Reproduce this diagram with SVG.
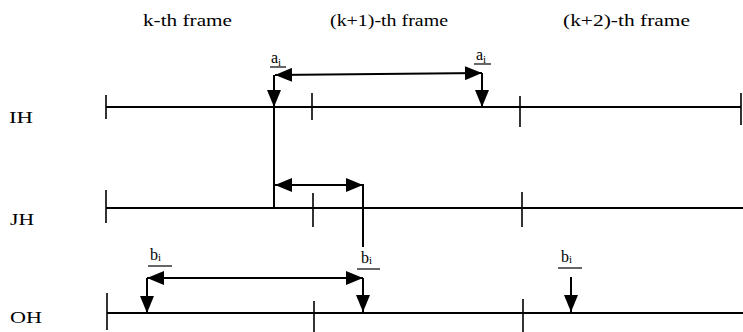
<svg xmlns="http://www.w3.org/2000/svg" width="743" height="332" viewBox="0 0 743 332">
<style>
.t{font-family:"Liberation Serif","Times New Roman",serif;font-size:16px;fill:#000}
.r{font-family:"Liberation Serif","Times New Roman",serif;font-size:17px;fill:#000}
.s{font-family:"Liberation Serif","Times New Roman",serif;font-size:11px}
.ln{stroke:#000;stroke-width:2;fill:none}
.tk{stroke:#000;stroke-width:1.6;fill:none}
.ar{stroke:#000;stroke-width:2;fill:none;marker-end:url(#ah)}
.da{stroke:#000;stroke-width:2;fill:none;marker-end:url(#ah);marker-start:url(#ah)}
.ul{stroke:#000;stroke-width:1.2}
</style>
<defs>
<marker id="ah" markerUnits="userSpaceOnUse" markerWidth="18" markerHeight="14" refX="17" refY="7" orient="auto-start-reverse">
<path d="M0,0 L17,7 L0,14 z" fill="#000"/>
</marker>
</defs>
<rect width="743" height="332" fill="#fff"/>
<g id="headers">
<text class="t" x="143" y="26" textLength="89" lengthAdjust="spacingAndGlyphs">k-th frame</text>
<text class="t" x="330" y="26" textLength="118" lengthAdjust="spacingAndGlyphs">(k+1)-th frame</text>
<text class="t" x="563" y="26" textLength="127" lengthAdjust="spacingAndGlyphs">(k+2)-th frame</text>
</g>
<g id="IH">
<text class="r" x="9" y="123" textLength="24" lengthAdjust="spacingAndGlyphs">IH</text>
<line class="ln" x1="106" y1="107" x2="741" y2="107"/>
<line class="tk" x1="106" y1="95" x2="106" y2="119"/>
<line class="tk" x1="312" y1="93" x2="312" y2="120"/>
<line class="tk" x1="520" y1="96" x2="520" y2="127"/>
<line class="tk" x1="741" y1="93" x2="741" y2="125"/>
</g>
<g id="JH">
<text class="r" x="10" y="225" textLength="24" lengthAdjust="spacingAndGlyphs">JH</text>
<line class="ln" x1="106" y1="208" x2="743" y2="208"/>
<line class="tk" x1="106" y1="190" x2="106" y2="223"/>
<line class="tk" x1="313" y1="193" x2="313" y2="227"/>
<line class="tk" x1="522" y1="192" x2="522" y2="227"/>
</g>
<g id="OH">
<text class="r" x="10" y="323" textLength="32" lengthAdjust="spacingAndGlyphs">OH</text>
<line class="ln" x1="107" y1="313" x2="743" y2="313"/>
<line class="tk" x1="107" y1="293" x2="107" y2="330"/>
<line class="tk" x1="314" y1="301" x2="314" y2="332"/>
<line class="tk" x1="523" y1="299" x2="523" y2="332"/>
</g>
<g id="labels">
<text class="t" x="271" y="63">a<tspan class="s" dy="3">i</tspan></text>
<line class="ul" x1="270" y1="67" x2="286" y2="67"/>
<text class="t" x="476" y="60">a<tspan class="s" dy="3">i</tspan></text>
<line class="ul" x1="474" y1="64" x2="491" y2="64"/>
<text class="t" x="150" y="260">b<tspan class="s" dy="1">i</tspan></text>
<line class="ul" x1="148" y1="266" x2="172" y2="266"/>
<text class="t" x="361" y="263">b<tspan class="s" dy="1">i</tspan></text>
<line class="ul" x1="357" y1="269" x2="380" y2="269"/>
<text class="t" x="561" y="262">b<tspan class="s" dy="1">i</tspan></text>
<line class="ul" x1="558" y1="268" x2="582" y2="268"/>
</g>
<g id="connectors">
<path class="da" d="M275,75 L482,73"/>
<path class="ar" d="M274,75 L274,107"/>
<path class="ar" d="M482,73 L482,107"/>
<path class="ln" d="M274,107 L274,208"/>
<path class="da" d="M275,185 L363,185"/>
<path class="ln" d="M363,184 L363,247"/>
<path class="da" d="M147,278 L363,278"/>
<path class="ar" d="M147,278 L147,313"/>
<path class="ar" d="M363,278 L363,312"/>
<path class="ar" d="M571,277 L571,312"/>
</g>
</svg>
